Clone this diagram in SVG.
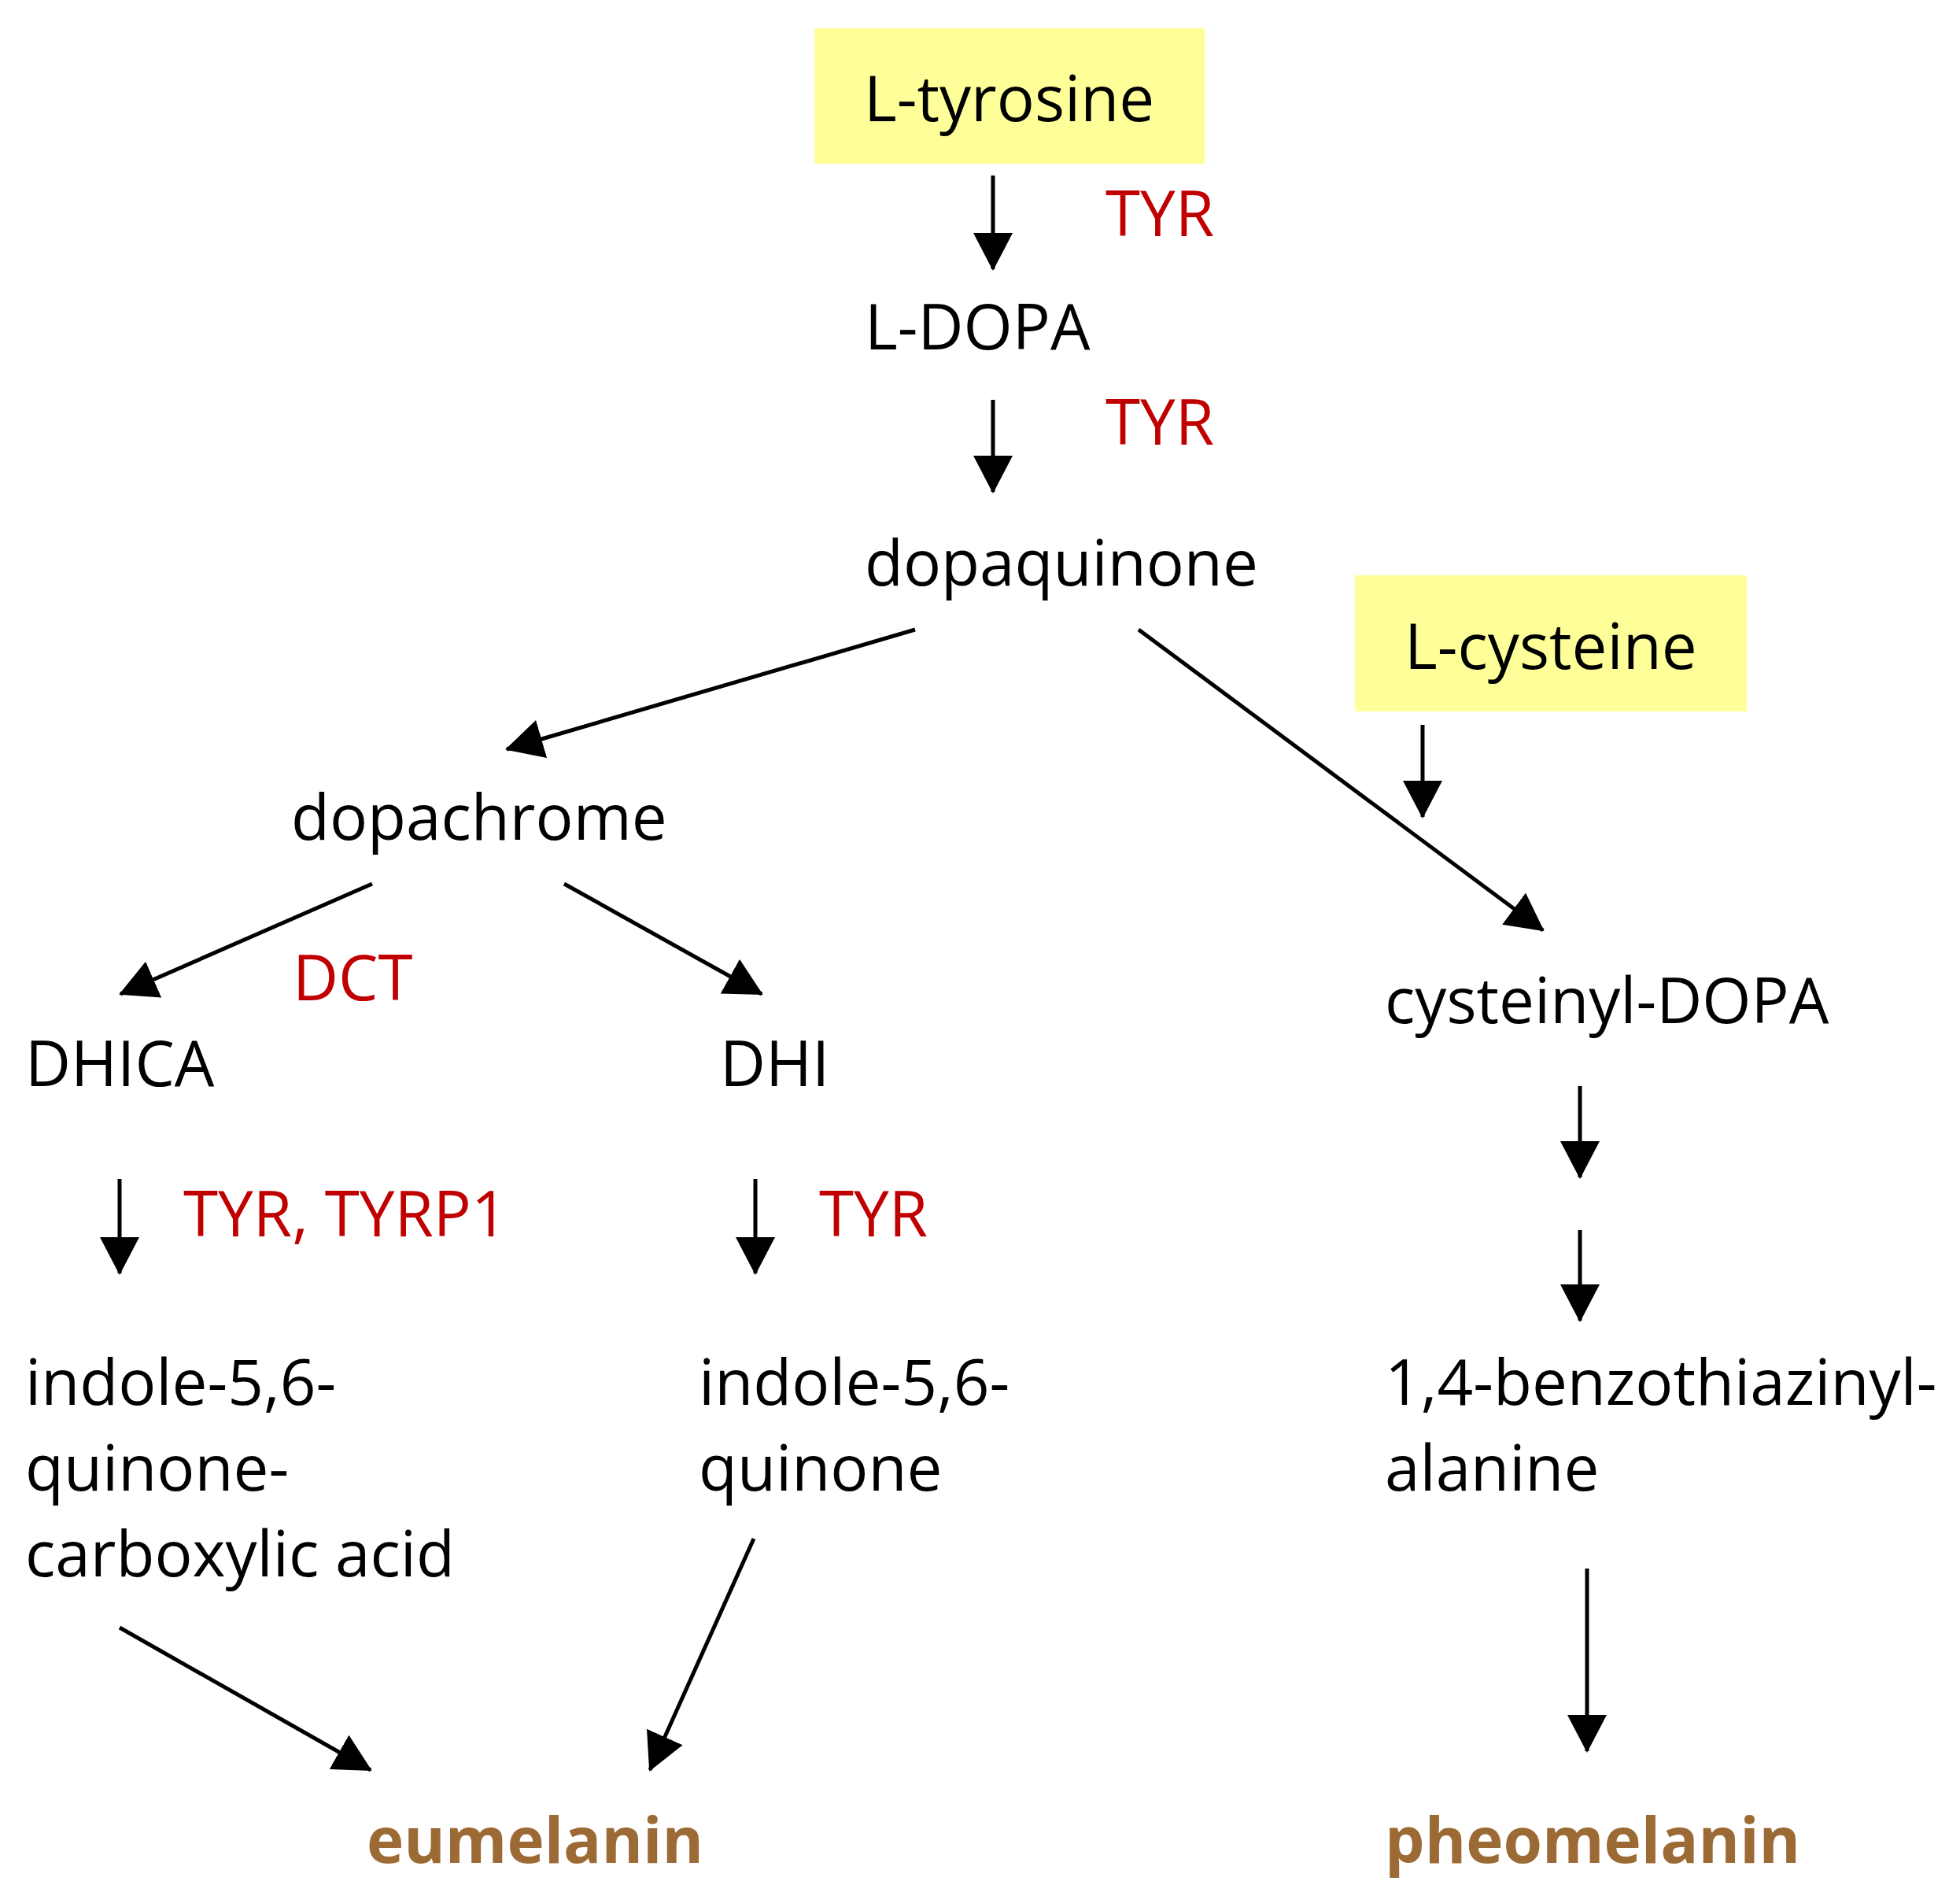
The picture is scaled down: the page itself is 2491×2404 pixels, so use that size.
<svg xmlns="http://www.w3.org/2000/svg" width="2491" height="2404" viewBox="0 0 2491 2404">
<style>
text{font-family:"Open Sans","Liberation Sans",sans-serif;font-size:80px;fill:#000}
.enz{fill:#c00000}
.prod{fill:#9c6a35;font-weight:bold}
.box{fill:#ffff99}
.c line{stroke:#000;stroke-width:5;marker-end:url(#ah)}
</style>
<defs>
<marker id="ah" markerUnits="userSpaceOnUse" markerWidth="50" markerHeight="52" refX="46" refY="25" orient="auto" viewBox="0 0 50 52">
<path d="M0,0 L48,25 L0,50 Z" fill="#000"/>
</marker>
</defs>
<g id="tyrosine"><rect class="box" x="1035" y="36" width="496" height="172"/><text x="1098" y="154">L-tyrosine</text></g>
<g id="ldopa"><text x="1099" y="444">L-DOPA</text></g>
<g id="dopaquinone"><text x="1099" y="744">dopaquinone</text></g>
<g id="cysteine"><rect class="box" x="1722" y="731" width="498" height="173"/><text x="1785" y="850">L-cysteine</text></g>
<g id="dopachrome"><text x="370" y="1067">dopachrome</text></g>
<g id="dhica"><text x="32" y="1380">DHICA</text></g>
<g id="dhi"><text x="915" y="1380">DHI</text></g>
<g id="cysteinyldopa"><text x="1760" y="1300">cysteinyl-DOPA</text></g>
<g id="iqca"><text x="32" y="1785">indole-5,6-</text><text x="32" y="1894">quinone-</text><text x="32" y="2003">carboxylic acid</text></g>
<g id="iq"><text x="888" y="1785">indole-5,6-</text><text x="888" y="1894">quinone</text></g>
<g id="bta"><text x="1760" y="1785">1,4-benzothiazinyl-</text><text x="1760" y="1894">alanine</text></g>
<g id="eumelanin"><text class="prod" x="466" y="2367">eumelanin</text></g>
<g id="pheomelanin"><text class="prod" x="1760" y="2367">pheomelanin</text></g>
<g id="labels">
<text class="enz" x="1405" y="300">TYR</text>
<text class="enz" x="1405" y="565">TYR</text>
<text class="enz" x="372" y="1271">DCT</text>
<text class="enz" x="233" y="1571">TYR, TYRP1</text>
<text class="enz" x="1041" y="1571">TYR</text>
</g>
<g id="connectors" class="c">
<line x1="1262" y1="223" x2="1262" y2="342"/>
<line x1="1262" y1="508" x2="1262" y2="625"/>
<line x1="1163" y1="800" x2="644" y2="952"/>
<line x1="1447" y1="800" x2="1961" y2="1182"/>
<line x1="1808" y1="921" x2="1808" y2="1038"/>
<line x1="473" y1="1123" x2="153" y2="1263"/>
<line x1="717" y1="1123" x2="968" y2="1263"/>
<line x1="152" y1="1498" x2="152" y2="1618"/>
<line x1="960" y1="1498" x2="960" y2="1618"/>
<line x1="2008" y1="1380" x2="2008" y2="1496"/>
<line x1="2008" y1="1563" x2="2008" y2="1678"/>
<line x1="2017" y1="1993" x2="2017" y2="2225"/>
<line x1="152" y1="2068" x2="471" y2="2249"/>
<line x1="958" y1="1955" x2="826" y2="2249"/>
</g>
</svg>
